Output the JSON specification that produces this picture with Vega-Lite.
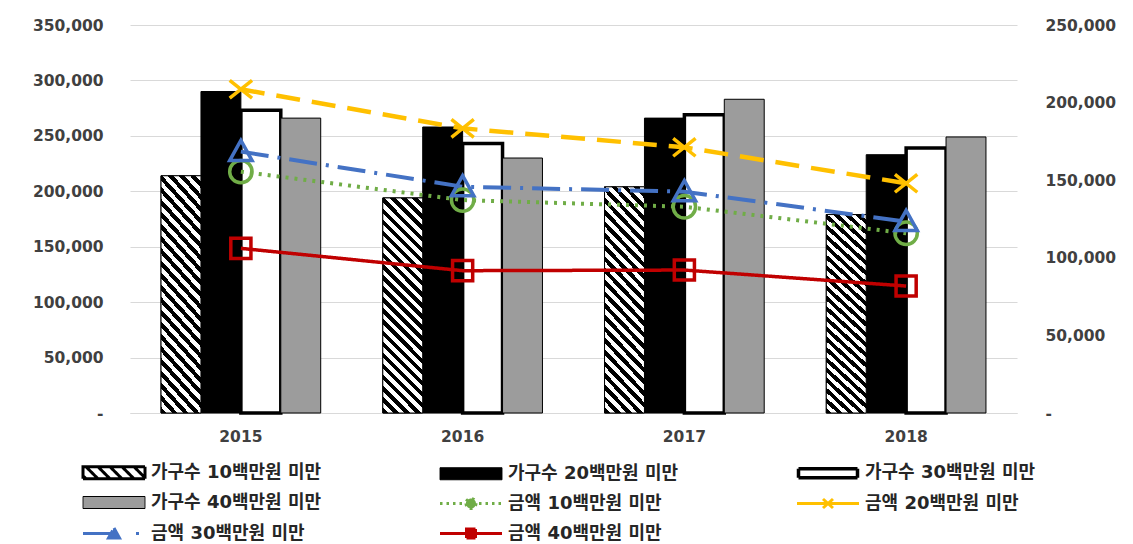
{
  "$schema": "https://vega.github.io/schema/vega-lite/v6.json",
  "width": 887,
  "height": 388,
  "autosize": {"type": "none"},
  "padding": {"left": 130, "top": 25, "right": 116, "bottom": 131},
  "background": "white",
  "config": {"view": {"stroke": null}, "font": "DejaVu Sans"},
  "datasets": {
    "households": [
      {"year": "2015", "series": "가구수 10백만원 미만", "value": 214000},
      {"year": "2016", "series": "가구수 10백만원 미만", "value": 194000},
      {"year": "2017", "series": "가구수 10백만원 미만", "value": 204000},
      {"year": "2018", "series": "가구수 10백만원 미만", "value": 179000},
      {"year": "2015", "series": "가구수 20백만원 미만", "value": 290000},
      {"year": "2016", "series": "가구수 20백만원 미만", "value": 258000},
      {"year": "2017", "series": "가구수 20백만원 미만", "value": 266000},
      {"year": "2018", "series": "가구수 20백만원 미만", "value": 233000},
      {"year": "2015", "series": "가구수 30백만원 미만", "value": 273000},
      {"year": "2016", "series": "가구수 30백만원 미만", "value": 243000},
      {"year": "2017", "series": "가구수 30백만원 미만", "value": 269000},
      {"year": "2018", "series": "가구수 30백만원 미만", "value": 239000},
      {"year": "2015", "series": "가구수 40백만원 미만", "value": 266000},
      {"year": "2016", "series": "가구수 40백만원 미만", "value": 230000},
      {"year": "2017", "series": "가구수 40백만원 미만", "value": 283000},
      {"year": "2018", "series": "가구수 40백만원 미만", "value": 249000}
    ],
    "amounts": [
      {"year": "2015", "series": "금액 10백만원 미만", "value": 155500},
      {"year": "2016", "series": "금액 10백만원 미만", "value": 137200},
      {"year": "2017", "series": "금액 10백만원 미만", "value": 132900},
      {"year": "2018", "series": "금액 10백만원 미만", "value": 115800},
      {"year": "2015", "series": "금액 20백만원 미만", "value": 208600},
      {"year": "2016", "series": "금액 20백만원 미만", "value": 183400},
      {"year": "2017", "series": "금액 20백만원 미만", "value": 171200},
      {"year": "2018", "series": "금액 20백만원 미만", "value": 148000},
      {"year": "2015", "series": "금액 30백만원 미만", "value": 168400},
      {"year": "2016", "series": "금액 30백만원 미만", "value": 145800},
      {"year": "2017", "series": "금액 30백만원 미만", "value": 142600},
      {"year": "2018", "series": "금액 30백만원 미만", "value": 123300},
      {"year": "2015", "series": "금액 40백만원 미만", "value": 106100},
      {"year": "2016", "series": "금액 40백만원 미만", "value": 91700},
      {"year": "2017", "series": "금액 40백만원 미만", "value": 92100},
      {"year": "2018", "series": "금액 40백만원 미만", "value": 81800}
    ]
  },
  "layer": [
    {
      "data": {"name": "households"},
      "layer": [
        {
          "mark": {"type": "bar", "stroke": "black"},
          "encoding": {
            "x": {"field": "year", "type": "nominal", "scale": {"paddingInner": 0.28, "paddingOuter": 0.14},
              "axis": {"title": null, "labelAngle": 0, "domain": true, "domainColor": "#d9d9d9", "ticks": false, "labelPadding": 16, "labelFontSize": 15.5, "labelFontWeight": "bold", "labelColor": "#404040"}},
            "xOffset": {"field": "series", "type": "nominal", "scale": {"domain": ["가구수 10백만원 미만", "가구수 20백만원 미만", "가구수 30백만원 미만", "가구수 40백만원 미만"], "paddingInner": 0, "paddingOuter": 0}},
            "y": {"field": "value", "type": "quantitative", "scale": {"domain": [0, 350000]},
              "axis": {"title": null, "orient": "left", "values": [0, 50000, 100000, 150000, 200000, 250000, 300000, 350000], "grid": true, "gridColor": "#d9d9d9", "domain": false, "ticks": false, "labelPadding": 27, "labelExpr": "datum.value === 0 ? '-' : format(datum.value, ',')", "labelFontSize": 15.5, "labelFontWeight": "bold", "labelColor": "#404040"}},
            "color": {"field": "series", "type": "nominal",
              "scale": {"domain": ["가구수 10백만원 미만", "가구수 20백만원 미만", "가구수 30백만원 미만", "가구수 40백만원 미만", "금액 10백만원 미만", "금액 20백만원 미만", "금액 30백만원 미만", "금액 40백만원 미만"],
                "range": ["white", "black", "white", "#9c9c9c", "#70ad47", "#ffc000", "#4472c4", "#c00000"]},
              "legend": null},
            "strokeWidth": {"field": "series", "type": "nominal", "scale": {"type": "ordinal", "domain": ["가구수 10백만원 미만", "가구수 20백만원 미만", "가구수 30백만원 미만", "가구수 40백만원 미만"], "range": [1, 1, 3.5, 1]}, "legend": null}
          }
        },
        {
          "transform": [{"filter": "datum.series === '가구수 10백만원 미만'"}],
          "mark": {"type": "bar", "stroke": "black", "strokeWidth": 1,
            "fill": {"gradient": "linear", "x1": 0, "y1": 1, "x2": 0.2132, "y2": -0.1463, "stops": [
              {"offset": 0, "color": "#000"},
              {"offset": 0.0217, "color": "#000"}, {"offset": 0.0217, "color": "#fff"},
              {"offset": 0.0435, "color": "#fff"}, {"offset": 0.0435, "color": "#000"},
              {"offset": 0.0652, "color": "#000"}, {"offset": 0.0652, "color": "#fff"},
              {"offset": 0.087, "color": "#fff"}, {"offset": 0.087, "color": "#000"},
              {"offset": 0.1087, "color": "#000"}, {"offset": 0.1087, "color": "#fff"},
              {"offset": 0.1304, "color": "#fff"}, {"offset": 0.1304, "color": "#000"},
              {"offset": 0.1522, "color": "#000"}, {"offset": 0.1522, "color": "#fff"},
              {"offset": 0.1739, "color": "#fff"}, {"offset": 0.1739, "color": "#000"},
              {"offset": 0.1957, "color": "#000"}, {"offset": 0.1957, "color": "#fff"},
              {"offset": 0.2174, "color": "#fff"}, {"offset": 0.2174, "color": "#000"},
              {"offset": 0.2391, "color": "#000"}, {"offset": 0.2391, "color": "#fff"},
              {"offset": 0.2609, "color": "#fff"}, {"offset": 0.2609, "color": "#000"},
              {"offset": 0.2826, "color": "#000"}, {"offset": 0.2826, "color": "#fff"},
              {"offset": 0.3043, "color": "#fff"}, {"offset": 0.3043, "color": "#000"},
              {"offset": 0.3261, "color": "#000"}, {"offset": 0.3261, "color": "#fff"},
              {"offset": 0.3478, "color": "#fff"}, {"offset": 0.3478, "color": "#000"},
              {"offset": 0.3696, "color": "#000"}, {"offset": 0.3696, "color": "#fff"},
              {"offset": 0.3913, "color": "#fff"}, {"offset": 0.3913, "color": "#000"},
              {"offset": 0.413, "color": "#000"}, {"offset": 0.413, "color": "#fff"},
              {"offset": 0.4348, "color": "#fff"}, {"offset": 0.4348, "color": "#000"},
              {"offset": 0.4565, "color": "#000"}, {"offset": 0.4565, "color": "#fff"},
              {"offset": 0.4783, "color": "#fff"}, {"offset": 0.4783, "color": "#000"},
              {"offset": 0.5, "color": "#000"}, {"offset": 0.5, "color": "#fff"},
              {"offset": 0.5217, "color": "#fff"}, {"offset": 0.5217, "color": "#000"},
              {"offset": 0.5435, "color": "#000"}, {"offset": 0.5435, "color": "#fff"},
              {"offset": 0.5652, "color": "#fff"}, {"offset": 0.5652, "color": "#000"},
              {"offset": 0.587, "color": "#000"}, {"offset": 0.587, "color": "#fff"},
              {"offset": 0.6087, "color": "#fff"}, {"offset": 0.6087, "color": "#000"},
              {"offset": 0.6304, "color": "#000"}, {"offset": 0.6304, "color": "#fff"},
              {"offset": 0.6522, "color": "#fff"}, {"offset": 0.6522, "color": "#000"},
              {"offset": 0.6739, "color": "#000"}, {"offset": 0.6739, "color": "#fff"},
              {"offset": 0.6957, "color": "#fff"}, {"offset": 0.6957, "color": "#000"},
              {"offset": 0.7174, "color": "#000"}, {"offset": 0.7174, "color": "#fff"},
              {"offset": 0.7391, "color": "#fff"}, {"offset": 0.7391, "color": "#000"},
              {"offset": 0.7609, "color": "#000"}, {"offset": 0.7609, "color": "#fff"},
              {"offset": 0.7826, "color": "#fff"}, {"offset": 0.7826, "color": "#000"},
              {"offset": 0.8043, "color": "#000"}, {"offset": 0.8043, "color": "#fff"},
              {"offset": 0.8261, "color": "#fff"}, {"offset": 0.8261, "color": "#000"},
              {"offset": 0.8478, "color": "#000"}, {"offset": 0.8478, "color": "#fff"},
              {"offset": 0.8696, "color": "#fff"}, {"offset": 0.8696, "color": "#000"},
              {"offset": 0.8913, "color": "#000"}, {"offset": 0.8913, "color": "#fff"},
              {"offset": 0.913, "color": "#fff"}, {"offset": 0.913, "color": "#000"},
              {"offset": 0.9348, "color": "#000"}, {"offset": 0.9348, "color": "#fff"},
              {"offset": 0.9565, "color": "#fff"}, {"offset": 0.9565, "color": "#000"},
              {"offset": 0.9783, "color": "#000"}, {"offset": 0.9783, "color": "#fff"},
              {"offset": 1, "color": "#fff"}
            ]}},
          "encoding": {
            "x": {"field": "year", "type": "nominal"},
            "xOffset": {"field": "series", "type": "nominal", "scale": {"domain": ["가구수 10백만원 미만", "가구수 20백만원 미만", "가구수 30백만원 미만", "가구수 40백만원 미만"], "paddingInner": 0, "paddingOuter": 0}},
            "y": {"field": "value", "type": "quantitative", "scale": {"domain": [0, 350000]}}
          }
        }
      ]
    },
    {
      "data": {"name": "amounts"},
      "layer": [
        {
          "mark": {"type": "line", "strokeCap": "butt"},
          "encoding": {
            "x": {"field": "year", "type": "nominal"},
            "y": {"field": "value", "type": "quantitative", "scale": {"domain": [0, 250000]},
              "axis": {"title": null, "orient": "right", "values": [0, 50000, 100000, 150000, 200000, 250000], "grid": false, "domain": false, "ticks": false, "labelPadding": 28, "labelExpr": "datum.value === 0 ? '-' : format(datum.value, ',')", "labelFontSize": 15.5, "labelFontWeight": "bold", "labelColor": "#404040"}},
            "color": {"field": "series", "type": "nominal", "legend": null},
            "strokeDash": {"field": "series", "type": "nominal", "scale": {"domain": ["금액 10백만원 미만", "금액 20백만원 미만", "금액 30백만원 미만", "금액 40백만원 미만"], "range": [[3, 6], [24, 12], [28, 9, 3, 9], [1, 0]]}, "legend": null},
            "strokeWidth": {"field": "series", "type": "nominal", "scale": {"type": "ordinal", "domain": ["금액 10백만원 미만", "금액 20백만원 미만", "금액 30백만원 미만", "금액 40백만원 미만"], "range": [4, 4.5, 4, 3.5]}, "legend": null}
          }
        },
        {
          "mark": {"type": "point", "filled": false, "strokeWidth": 3.5, "size": 500, "opacity": 1},
          "encoding": {
            "x": {"field": "year", "type": "nominal"},
            "y": {"field": "value", "type": "quantitative", "scale": {"domain": [0, 250000]}},
            "color": {"field": "series", "type": "nominal", "legend": null},
            "shape": {"field": "series", "type": "nominal", "scale": {"domain": ["금액 10백만원 미만", "금액 20백만원 미만", "금액 30백만원 미만", "금액 40백만원 미만"], "range": ["circle", "M-1,-0.8L1,0.8M-1,0.8L1,-0.8", "M0,-1L1,0.8L-1,0.8Z", "M-0.9,-0.9H0.9V0.9H-0.9Z"]}, "legend": null}
          }
        }
      ]
    },
    {
      "data": {"name": "amounts"},
      "mark": {"type": "point", "opacity": 0},
      "encoding": {
        "x": {"field": "year", "type": "nominal"},
        "y": {"field": "value", "type": "quantitative", "axis": null},
        "shape": {"field": "series", "type": "nominal",
          "scale": {"domain": ["가구수 10백만원 미만", "가구수 20백만원 미만", "가구수 30백만원 미만", "가구수 40백만원 미만", "금액 10백만원 미만", "금액 20백만원 미만", "금액 30백만원 미만", "금액 40백만원 미만"],
            "range": [
              "M-3.1,-0.6H3.1V0.6H-3.1ZM-3.1,0.3L-2.8,0.6M-2.8,-0.6L-1.6,0.6M-1.6,-0.6L-0.4,0.6M-0.4,-0.6L0.8,0.6M0.8,-0.6L2,0.6M2,-0.6L3.1,0.5",
              "M-3.1,-0.6H3.1V0.6H-3.1Z",
              "M-2.95,-0.45H2.95V0.45H-2.95Z",
              "M-3.1,-0.6H3.1V0.6H-3.1Z",
              "M-3.1,0H3.1M-0.5,0A0.5,0.5 0 1,0 0.5,0A0.5,0.5 0 1,0 -0.5,0Z",
              "M-0.5,-0.45L0.5,0.45M-0.5,0.45L0.5,-0.45M-3.1,0H3.1",
              "M-3.1,0H3.1M0,-0.55L0.55,0.45H-0.55Z",
              "M-3.1,0H3.1M-0.45,-0.45H0.45V0.45H-0.45Z"
            ]},
          "legend": {
            "title": null, "orient": "none", "legendX": -28, "legendY": 436, "direction": "horizontal", "columns": 3, "columnPadding": 112, "rowPadding": 7,
            "symbolSize": 400, "symbolOpacity": 1, "labelOffset": 25, "padding": 0,
            "labelFont": "DejaVu Sans, Noto Sans CJK KR", "labelFontSize": 18, "labelFontWeight": "bold", "labelColor": "#262626", "labelLimit": 0
          }},
        "fill": {"field": "series", "type": "nominal",
          "scale": {"domain": ["가구수 10백만원 미만", "가구수 20백만원 미만", "가구수 30백만원 미만", "가구수 40백만원 미만", "금액 10백만원 미만", "금액 20백만원 미만", "금액 30백만원 미만", "금액 40백만원 미만"],
            "range": ["white", "black", "white", "#9c9c9c", "#70ad47", "#ffc000", "#4472c4", "#c00000"]}},
        "stroke": {"field": "series", "type": "nominal",
          "scale": {"domain": ["가구수 10백만원 미만", "가구수 20백만원 미만", "가구수 30백만원 미만", "가구수 40백만원 미만", "금액 10백만원 미만", "금액 20백만원 미만", "금액 30백만원 미만", "금액 40백만원 미만"],
            "range": ["black", "black", "black", "black", "#70ad47", "#ffc000", "#4472c4", "#c00000"]}},
        "strokeWidth": {"field": "series", "type": "nominal",
          "scale": {"type": "ordinal", "domain": ["가구수 10백만원 미만", "가구수 20백만원 미만", "가구수 30백만원 미만", "가구수 40백만원 미만", "금액 10백만원 미만", "금액 20백만원 미만", "금액 30백만원 미만", "금액 40백만원 미만"],
            "range": [3, 1, 3.5, 1, 3, 3, 3, 3]}},
        "strokeDash": {"field": "series", "type": "nominal",
          "scale": {"domain": ["가구수 10백만원 미만", "가구수 20백만원 미만", "가구수 30백만원 미만", "가구수 40백만원 미만", "금액 10백만원 미만", "금액 20백만원 미만", "금액 30백만원 미만", "금액 40백만원 미만"],
            "range": [[1, 0], [1, 0], [1, 0], [1, 0], [2.5, 4], [64, 200], [31, 22, 3, 200], [1, 0]]}}
      }
    }
  ],
  "resolve": {"scale": {"y": "independent", "shape": "independent", "strokeDash": "independent", "strokeWidth": "independent", "fill": "independent", "stroke": "independent"}}
}
